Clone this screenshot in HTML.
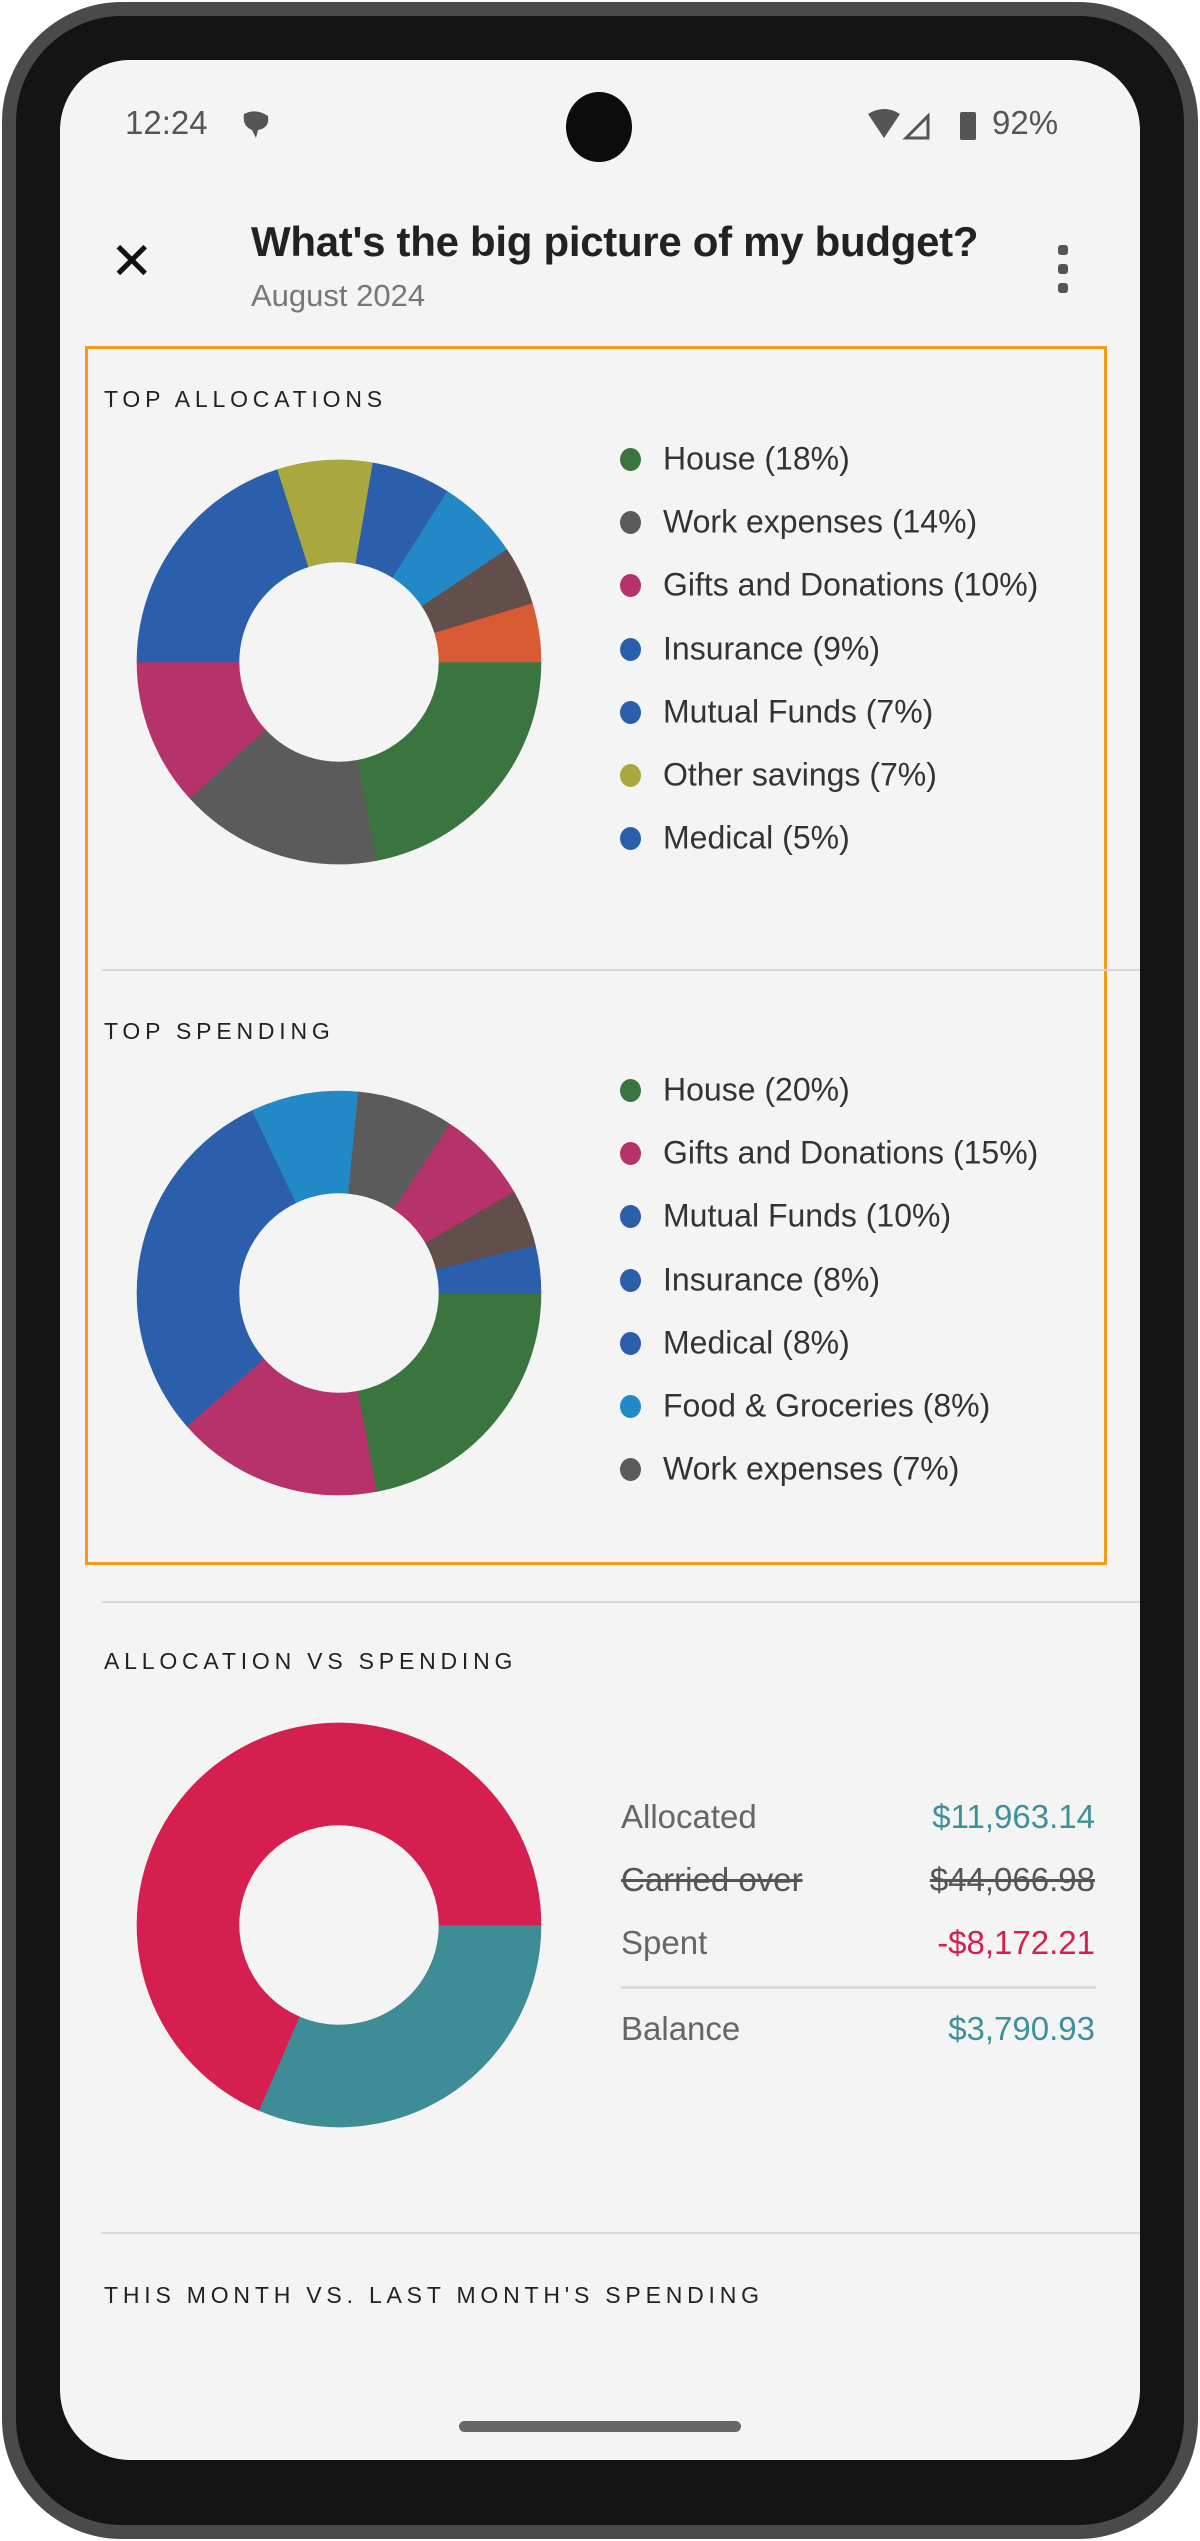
<!DOCTYPE html>
<html><head><meta charset="utf-8"><style>
*{margin:0;padding:0;box-sizing:border-box}
body{width:1200px;height:2541px;background:#fff;position:relative;overflow:hidden;font-family:"Liberation Sans",sans-serif}
.abs{position:absolute;white-space:nowrap}
.phone{position:absolute;left:2px;top:2px;width:1196px;height:2537px;border-radius:120px;background:#4a4a4a}
.bez{position:absolute;left:16px;top:16px;width:1168px;height:2509px;border-radius:106px;background:#141414}
.screen{position:absolute;left:60px;top:60px;width:1080px;height:2400px;border-radius:70px;background:#f4f4f4;overflow:hidden}
.h{font-size:23px;letter-spacing:4.8px;color:#222}
.lg{font-size:32px;color:#333;transform:translateY(-50%)}
.dot{position:absolute;width:21px;height:23px;border-radius:50%}
.row{font-size:33px;color:#666;transform:translateY(-50%)}
</style></head><body>
<div class="phone"></div><div class="bez"></div>
<div class="screen">
<svg width="1080" height="2400" style="position:absolute;left:0;top:0" id="sv"></svg>
</div>
<div class="abs" style="left:125px;top:104px;font-size:33px;color:#555">12:24</div>
<svg class="abs" style="left:240px;top:110px" width="32" height="32"><path d="M4 4 Q16 -2 28 6 Q30 18 18 20 L16 28 L12 20 Q2 16 4 4Z" fill="#555"/></svg>
<div class="abs" style="left:566px;top:92px;width:66px;height:70px;border-radius:50%;background:#0c0c0c"></div>
<svg class="abs" style="left:866px;top:108px" width="110" height="34"><path d="M2 6 Q18 -4 34 6 L18 30Z" fill="#555"/><path d="M40 30 L62 8 L62 30Z" fill="none" stroke="#555" stroke-width="3"/><rect x="94" y="4" width="16" height="28" rx="2" fill="#555"/></svg>
<div class="abs" style="left:992px;top:104px;font-size:33px;color:#555">92%</div>
<div class="abs" style="left:110px;top:236px;font-size:52px;line-height:52px;color:#111;font-weight:300">✕</div>
<div class="abs" style="left:251px;top:218px;font-size:42px;color:#222;font-weight:bold;letter-spacing:-0.3px">What's the big picture of my budget?</div>
<div class="abs" style="left:251px;top:278px;font-size:31px;color:#777">August 2024</div>
<div class="abs" style="left:1058px;top:245px;width:10px;height:10px;border-radius:3px;background:#555"></div>
<div class="abs" style="left:1058px;top:264px;width:10px;height:10px;border-radius:3px;background:#555"></div>
<div class="abs" style="left:1058px;top:283px;width:10px;height:10px;border-radius:3px;background:#555"></div>
<div class="abs" style="left:85px;top:346px;width:1022px;height:1219px;border:3px solid #f79a17"></div>
<div class="abs h" style="left:104px;top:386px">TOP ALLOCATIONS</div>
<div class="abs h" style="left:104px;top:1018px">TOP SPENDING</div>
<div class="abs h" style="left:104px;top:1648px">ALLOCATION VS SPENDING</div>
<div class="abs h" style="left:104px;top:2282px">THIS MONTH VS. LAST MONTH'S SPENDING</div>
<div class="abs" style="left:102px;top:969px;width:1038px;height:2px;background:#d8d8d8"></div>
<div class="abs" style="left:102px;top:1601px;width:1038px;height:2px;background:#d8d8d8"></div>
<div class="abs" style="left:102px;top:2232px;width:1038px;height:2px;background:#d8d8d8"></div>
<div id="leg"></div>
<div class="abs row" style="left:621px;top:1817px">Allocated</div>
<div class="abs row" style="right:105px;top:1817px;color:#3e9199">$11,963.14</div>
<div class="abs row" style="left:621px;top:1880px;text-decoration:line-through;color:#555">Carried over</div>
<div class="abs row" style="right:105px;top:1880px;text-decoration:line-through;color:#555">$44,066.98</div>
<div class="abs row" style="left:621px;top:1943px">Spent</div>
<div class="abs row" style="right:105px;top:1943px;color:#d41f4f">-$8,172.21</div>
<div class="abs" style="left:621px;top:1986px;width:475px;height:3px;background:#dcdcdc"></div>
<div class="abs row" style="left:621px;top:2029px">Balance</div>
<div class="abs row" style="right:105px;top:2029px;color:#3e9199">$3,790.93</div>
<div class="abs" style="left:459px;top:2421px;width:282px;height:11px;border-radius:6px;background:#666"></div>
<script>
var C={g:"#3a7540",k:"#5b5b5b",m:"#b5326b",b:"#2c5fab",l:"#2389c6",r:"#624e4a",o:"#d95b33",y:"#a9a83f",red:"#d41f4f",t:"#3e8c96"};
var sv=document.getElementById('sv');var s='',lines='';
function arc(cx,cy,R,r,a0,a1,col){var d=Math.PI/180,A=a0*d,B=a1*d,lg=(a1-a0)>180?1:0;
function p(rr,a){return (cx+rr*Math.cos(a)).toFixed(2)+' '+(cy+rr*Math.sin(a)).toFixed(2)}
s+='<path d="M'+p(R,A)+' A'+R+' '+R+' 0 '+lg+' 1 '+p(R,B)+' L'+p(r,B)+' A'+r+' '+r+' 0 '+lg+' 0 '+p(r,A)+'Z" fill="'+col+'" stroke="'+col+'" stroke-width="0.6"/>';
lines+='<path d="M'+p(r,A)+' L'+p(R,A)+'" stroke="rgba(120,150,200,0.35)" stroke-width="1.2"/>';}
function donut(cx,cy,segs){var a=0;segs.forEach(function(x){arc(cx,cy,202,100,a,x[0],C[x[1]]);a=x[0];});}
donut(279,602,[[79.4,'g'],[137.6,'k'],[180,'m'],[218.8,'b'],[252.3,'b'],[279.7,'y'],[302.5,'b'],[326.2,'l'],[343.2,'r'],[360,'o']]);
donut(279,1233,[[79.3,'g'],[138.8,'m'],[180,'b'],[213.6,'b'],[244.6,'b'],[275.5,'l'],[303.4,'k'],[330.1,'m'],[346.5,'r'],[360,'b']]);
lines='';
arc(279,1865,202,100,0,113.4,C.t);arc(279,1865,202,100,113.4,360,C.red);
sv.innerHTML=s;
var L1=[['g','House (18%)'],['k','Work expenses (14%)'],['m','Gifts and Donations (10%)'],['b','Insurance (9%)'],['b','Mutual Funds (7%)'],['y','Other savings (7%)'],['b','Medical (5%)']];
var L2=[['g','House (20%)'],['m','Gifts and Donations (15%)'],['b','Mutual Funds (10%)'],['b','Insurance (8%)'],['b','Medical (8%)'],['l','Food & Groceries (8%)'],['k','Work expenses (7%)']];
var h='';function leg(L,y0){L.forEach(function(x,i){var y=y0+i*63.2;
h+='<div class="dot" style="left:620px;top:'+(y-11)+'px;background:'+C[x[0]]+'"></div><div class="abs lg" style="left:663px;top:'+y+'px">'+x[1].replace('&','&amp;')+'</div>';});}
leg(L1,459);leg(L2,1090);document.getElementById('leg').innerHTML=h;
</script>
</body></html>
